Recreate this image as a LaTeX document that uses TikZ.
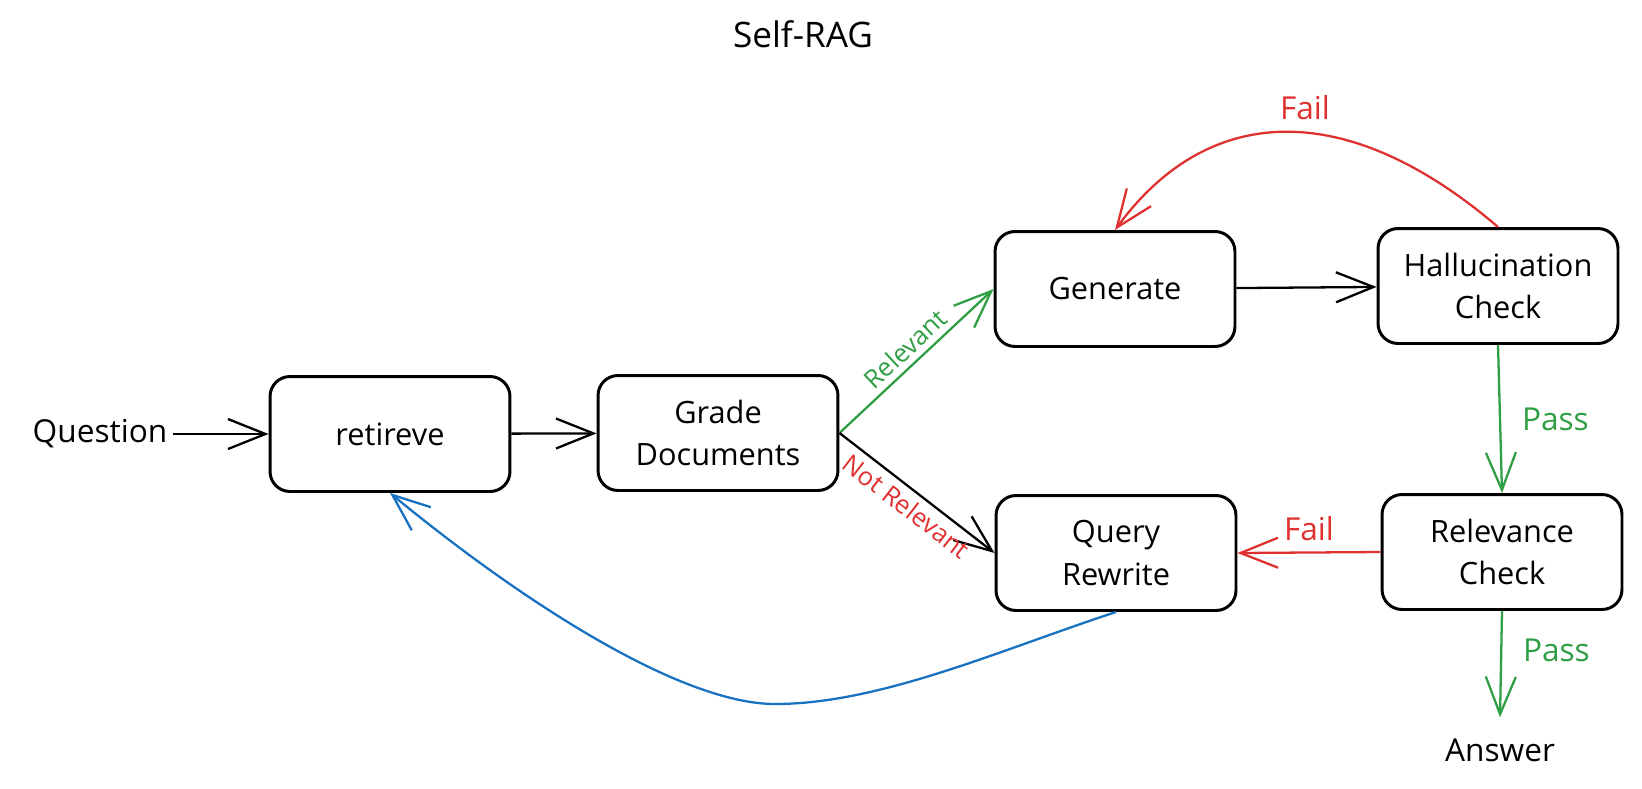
\documentclass[tikz,border=0pt]{standalone}
\usepackage{fontspec}
\setmainfont{Open Sans}
\usetikzlibrary{arrows.meta}
\definecolor{passgreen}{HTML}{2F9E44}
\definecolor{failred}{HTML}{E03131}
\definecolor{loopblue}{HTML}{1971C2}

\begin{document}
\begin{tikzpicture}[x=0.02cm, y=-0.02cm,
        box/.style={draw, line width=1.7pt, rounded corners=0.4cm, minimum width=4.8cm,
            minimum height=2.3cm, align=center, font=\fontsize{17.5}{24}\selectfont},
        flow/.style={line width=1.3pt, -{Straight Barb[length=0.75cm, width=0.6cm, line width=1.3pt]}},
        lbl/.style={font=\fontsize{18}{22}\selectfont},
        tag/.style={font=\fontsize{14.5}{17}\selectfont}]
            \useasboundingbox (0, 0) rectangle (1642, 788);

            \node[lbl, font=\fontsize{20}{24}\selectfont] (title) at (803, 34) {Self-RAG};

            \node[lbl] (question) at (100, 434) {Question};
            \node[box] (retrieve) at (390, 434) {retireve};
            \node[box] (grade) at (718, 433) {Grade\\Documents};
            \node[box] (generate) at (1115, 289) {Generate};
            \node[box] (query) at (1116, 553) {Query\\Rewrite};
            \node[box] (halluc) at (1498, 286) {Hallucination\\Check};
            \node[box] (relev) at (1502, 552) {Relevance\\Check};
            \node[lbl] (answer) at (1500, 750) {Answer};

            \coordinate (low) at (775, 704);

            % main line
            \draw[flow] (question) -- (retrieve);
            \draw[flow] (retrieve) -- (grade);
            \draw[flow] (generate) -- (halluc);

            % grading
            \draw[flow, passgreen] (grade.east) -- (generate.west)
                node[midway, above, sloped, tag] {Relevant};
            \draw[flow] (grade.east) -- (query.west)
                node[midway, below, sloped, tag, text=failred] {Not Relevant};

            % checks
            \draw[flow, passgreen] (halluc.south) -- (relev.north)
                node[midway, right=0.3cm, lbl] {Pass};
            \draw[flow, passgreen] (relev.south) -- ([yshift=0.3cm]answer.north)
                node[midway, right=0.3cm, yshift=0.28cm, lbl] {Pass};
            \draw[flow, failred] (relev.west) -- (query.east)
                node[midway, above, yshift=0.1cm, lbl] {Fail};
            \draw[flow, failred] (halluc.north) .. controls (1350, 100) and (1210, 100) .. (generate.north);
            \node[lbl, text=failred] (failtop) at (1305, 108) {Fail};

            % back to retrieval
            \draw[line width=1.3pt, loopblue] (query.south) .. controls (1000, 650) and (880, 704) .. (low);
            \draw[flow, loopblue] (low) .. controls (680, 704) and (520, 600) .. (retrieve.south);
\end{tikzpicture}
\end{document}
